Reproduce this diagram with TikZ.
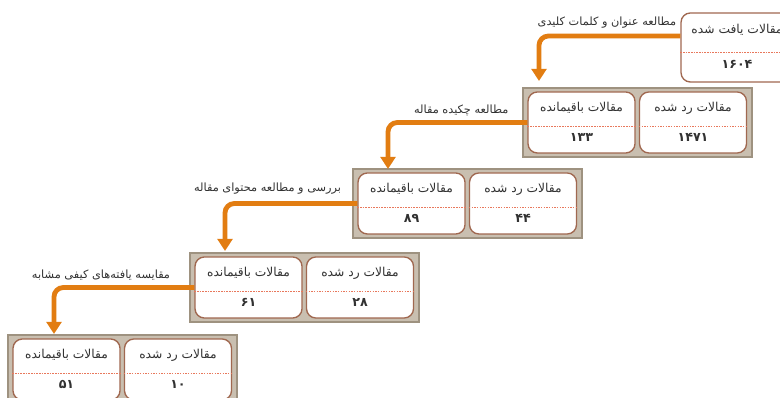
\documentclass[tikz,border=0pt]{standalone}
\usepackage{fontspec}
\newfontfamily\arabicfont[Script=Arabic]{DejaVu Sans}
\TeXXeTstate=1
\usepackage{tikz}
\usetikzlibrary{arrows.meta}
\usetikzlibrary{positioning}
\definecolor{taupe}{RGB}{201,191,176}
\definecolor{taupeline}{RGB}{158,146,128}
\definecolor{cardline}{RGB}{160,104,80}
\definecolor{sepline}{RGB}{232,120,92}
\definecolor{flowcol}{RGB}{226,125,18}
\definecolor{ink}{RGB}{50,50,50}
\newcommand{\fatext}[1]{{\arabicfont\beginR #1\endR}}
\tikzset{
  panel/.style={rectangle,draw=taupeline,fill=taupe,line width=0.8pt,minimum width=171.75pt,minimum height=51.75pt,inner sep=0pt},
  card/.style={rectangle,rounded corners=7pt,draw=cardline,fill=white,line width=1pt,minimum width=80.25pt,minimum height=45.75pt,inner sep=0pt},
  head/.style={text=ink,font=\arabicfont\fontsize{9.2}{11}\selectfont,inner sep=1pt},
  num/.style={text=ink,font=\arabicfont\fontsize{9.5}{11}\selectfont\bfseries,inner sep=1pt},
  sep/.style={draw=sepline,line width=0.6pt,dash pattern=on 1.2pt off 0.8pt},
  flow/.style={draw=flowcol,line width=3.6pt,rounded corners=7pt,-{Triangle[width=11pt,length=9pt]}},
  tag/.style={text=ink,font=\arabicfont\fontsize{8.5}{10}\selectfont,inner sep=1pt}
}
\begin{document}
\begin{tikzpicture}[x=0.75pt,y=-0.75pt]
\clip (0,0) rectangle (780,398);
\fill[white] (0,0) rectangle (780,398);
% panels
\node[panel] (row2) at (637.5,122.5) {};
\node[panel] (row3) at (467.5,203.5) {};
\node[panel] (row4) at (304.5,287.5) {};
\node[panel] (row5) at (122.5,369.5) {};

% found articles
\node[card,minimum width=84pt,minimum height=51.75pt] (found) at (737,47.5) {};
\node[head] (foundt) at ([yshift=13pt]found.center) {\fatext{مقالات یافت شده}};
\draw[sep] ([yshift=-3.4pt]found.west) -- ([yshift=-3.4pt]found.east);
\node[num] (foundn) at ([yshift=-13pt]found.center) {۱۶۰۴};

% row 2
\node[card] (rest2) at (581.5,122.5) {};
\node[card] (rej2) at (693,122.5) {};
\node[head] (rest2t) at ([yshift=10.9pt]rest2.center) {\fatext{مقالات باقیمانده}};
\node[head] (rej2t) at ([yshift=10.9pt]rej2.center) {\fatext{مقالات رد شده}};
\draw[sep] ([yshift=-2.6pt]rest2.west) -- ([yshift=-2.6pt]rest2.east);
\draw[sep] ([yshift=-2.6pt]rej2.west) -- ([yshift=-2.6pt]rej2.east);
\node[num] (rest2n) at ([yshift=-10.9pt]rest2.center) {۱۳۳};
\node[num] (rej2n) at ([yshift=-10.9pt]rej2.center) {۱۴۷۱};

% row 3
\node[card] (rest3) at (411.5,203.5) {};
\node[card] (rej3) at (523,203.5) {};
\node[head] (rest3t) at ([yshift=10.9pt]rest3.center) {\fatext{مقالات باقیمانده}};
\node[head] (rej3t) at ([yshift=10.9pt]rej3.center) {\fatext{مقالات رد شده}};
\draw[sep] ([yshift=-2.6pt]rest3.west) -- ([yshift=-2.6pt]rest3.east);
\draw[sep] ([yshift=-2.6pt]rej3.west) -- ([yshift=-2.6pt]rej3.east);
\node[num] (rest3n) at ([yshift=-10.9pt]rest3.center) {۸۹};
\node[num] (rej3n) at ([yshift=-10.9pt]rej3.center) {۴۴};

% row 4
\node[card] (rest4) at (248.5,287.5) {};
\node[card] (rej4) at (360,287.5) {};
\node[head] (rest4t) at ([yshift=10.9pt]rest4.center) {\fatext{مقالات باقیمانده}};
\node[head] (rej4t) at ([yshift=10.9pt]rej4.center) {\fatext{مقالات رد شده}};
\draw[sep] ([yshift=-2.6pt]rest4.west) -- ([yshift=-2.6pt]rest4.east);
\draw[sep] ([yshift=-2.6pt]rej4.west) -- ([yshift=-2.6pt]rej4.east);
\node[num] (rest4n) at ([yshift=-10.9pt]rest4.center) {۶۱};
\node[num] (rej4n) at ([yshift=-10.9pt]rej4.center) {۲۸};

% row 5
\node[card] (rest5) at (66.5,369.5) {};
\node[card] (rej5) at (178,369.5) {};
\node[head] (rest5t) at ([yshift=10.9pt]rest5.center) {\fatext{مقالات باقیمانده}};
\node[head] (rej5t) at ([yshift=10.9pt]rej5.center) {\fatext{مقالات رد شده}};
\draw[sep] ([yshift=-2.6pt]rest5.west) -- ([yshift=-2.6pt]rest5.east);
\draw[sep] ([yshift=-2.6pt]rej5.west) -- ([yshift=-2.6pt]rej5.east);
\node[num] (rest5n) at ([yshift=-10.9pt]rest5.center) {۵۱};
\node[num] (rej5n) at ([yshift=-10.9pt]rej5.center) {۱۰};

% flow arrows
\coordinate (tip1) at (539,81);
\coordinate (tip2) at (388,169);
\coordinate (tip3) at (225,251);
\coordinate (tip4) at (54,334);
\draw[flow] ([yshift=8.6pt]found.west) -| (tip1);
\draw[flow] (rest2.west) -| (tip2);
\draw[flow] (rest3.west) -| (tip3);
\draw[flow] (rest4.west) -| (tip4);

\node[tag,above left=13pt and 2pt of found.west] (step1) {\fatext{مطالعه عنوان و کلمات کلیدی}};
\node[tag,above left=4pt and 13pt of rest2.west] (step2) {\fatext{مطالعه چکیده مقاله}};
\node[tag,above left=6pt and 11pt of rest3.west] (step3) {\fatext{بررسی و مطالعه محتوای مقاله}};
\node[tag,above left=4pt and 17pt of rest4.west] (step4) {\fatext{مقایسه یافته‌های کیفی مشابه}};
%\node[tag] at (700,380) {};
\end{tikzpicture}
\end{document}
